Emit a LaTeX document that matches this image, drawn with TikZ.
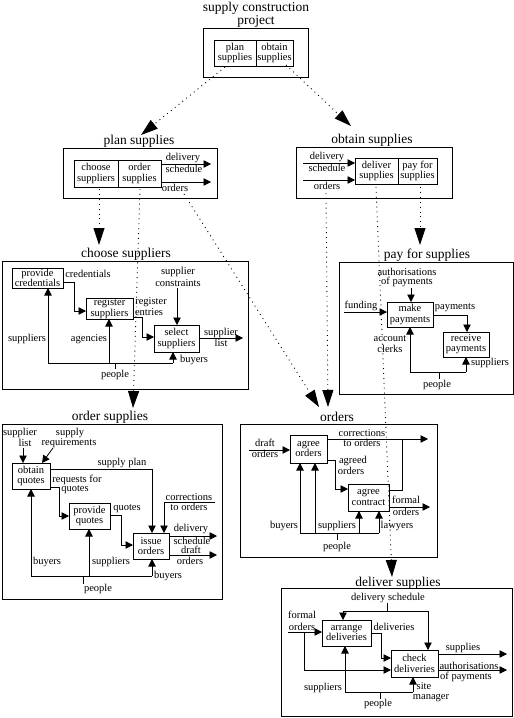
\documentclass[tikz,border=0pt]{standalone}
\usepackage{fontspec}
\setmainfont{Liberation Serif}
\usetikzlibrary{arrows.meta}
\begin{document}
\begin{tikzpicture}[x=1pt,y=-1pt,
  lab/.style={inner sep=0pt, align=center, font=\fontsize{10.5}{10.3}\selectfont},
  hd/.style={inner sep=0pt, align=center, font=\fontsize{13.5}{12.5}\selectfont},
  blk/.style={draw, line width=0.8pt, inner sep=0pt, outer sep=0pt, align=center, font=\fontsize{10.5}{10.3}\selectfont},
  frame/.style={draw, line width=0.8pt, inner sep=0pt, outer sep=0pt},
  flow/.style={line width=0.8pt, -{Triangle[length=7.5pt,width=7.5pt]}},
  ln/.style={line width=0.8pt},
  dots/.style={line width=0.9pt, dash pattern=on 0.9pt off 4pt, -{Triangle[length=17pt,width=11pt]}}]
\useasboundingbox (0,0) rectangle (514,718);

% ---------- top ----------
\node[hd] (ttl) at (256,15) {supply construction\\project};
\node[frame, minimum width=105pt, minimum height=49pt] (topf) at (255.5,52.5) {};
\node[blk, minimum width=42pt, minimum height=26pt] (tplan) at (235,53) {plan\\supplies};
\node[blk, minimum width=37pt, minimum height=26pt] (tobt) at (274.5,53) {obtain\\supplies};

% ---------- plan supplies ----------
\node[hd] (hps) at (139,141) {plan supplies};
\node[frame, minimum width=154pt, minimum height=50pt] (psf) at (140,173) {};
\node[blk, minimum width=44pt, minimum height=27pt] (pcs) at (96,173.5) {choose\\suppliers};
\node[blk, minimum width=43pt, minimum height=27pt] (pos) at (139.5,173.5) {order\\supplies};
\coordinate (psd) at (211,164);
\coordinate (pso) at (211,182);
\draw[flow] (pos.east |- psd) -- (psd);
\draw[flow] (pos.east |- pso) -- (pso);
\node[lab] (l1) at (183,158) {delivery};
\node[lab] (l2) at (184,169) {schedule};
\node[lab] (l3) at (175,188) {orders};

% ---------- obtain supplies ----------
\node[hd] (hos) at (372,140) {obtain supplies};
\node[frame, minimum width=156pt, minimum height=51pt] (osf) at (374,172.5) {};
\node[blk, minimum width=43pt, minimum height=26pt] (ods) at (376.5,171) {deliver\\supplies};
\node[blk, minimum width=39pt, minimum height=26pt] (ops) at (417.5,171) {pay for\\supplies};
\coordinate (osd) at (303,163);
\coordinate (oso) at (303,180);
\draw[flow] (osd) -- (ods.west |- osd);
\draw[flow] (oso) -- (ods.west |- oso);
\node[lab] (l4) at (327,157) {delivery};
\node[lab] (l5) at (327,168) {schedule};
\node[lab] (l6) at (327,186) {orders};

% ---------- dotted decomposition links ----------
\coordinate (s1) at (225,67);  \coordinate (e1) at (141,135);
\coordinate (s2) at (286,65);  \coordinate (e2) at (351,126);
\coordinate (s3) at (99,189);  \coordinate (e3) at (99,245);
\coordinate (s4) at (140,189); \coordinate (e4) at (133,408);
\coordinate (s5) at (184,194); \coordinate (e5) at (319,407);
\coordinate (s6) at (326,193); \coordinate (e6) at (328,407);
\coordinate (s7) at (376,187); \coordinate (e7) at (392,577);
\coordinate (s8) at (420,187); \coordinate (e8) at (420,245);
\foreach \i in {1,...,8} \draw[dots] (s\i) -- (e\i);

% ---------- choose suppliers ----------
\node[hd] (hcs) at (126,254) {choose suppliers};
\node[frame, minimum width=246pt, minimum height=128pt] (csf) at (125,325) {};
\node[blk, minimum width=51pt, minimum height=20pt] (pc) at (37.5,278) {provide\\credentials};
\node[blk, minimum width=47pt, minimum height=21pt] (rs) at (109.5,308.5) {register\\suppliers};
\node[blk, minimum width=45pt, minimum height=27pt] (ss) at (176.5,338.5) {select\\suppliers};
\draw[flow] (pc.east |- 0,282) -- (74,282) -- (74,311) -- (rs.west |- 0,311);
\draw[flow] (rs.east |- 0,317) -- (142,317) -- (142,337) -- (ss.west |- 0,337);
\draw[flow] (177,288) -- (ss.north -| 177,0);
\draw[flow] (ss.east |- 0,338) -- (243,338);
\draw[ln] (48,363) -- (173,363);
\draw[flow] (48,363) -- (pc.south -| 48,0);
\draw[flow] (109,363) -- (rs.south -| 109,0);
\draw[flow] (173,363) -- (ss.south -| 173,0);
\draw[ln] (115,363) -- (115,369);
\node[lab] (c1) at (88,274) {credentials};
\node[lab] (c2) at (151,302) {register};
\node[lab] (c3) at (149,312) {entries};
\node[lab] (c4) at (178,272) {supplier};
\node[lab] (c5) at (178,283) {constraints};
\node[lab] (c6) at (221,333) {supplier};
\node[lab] (c7) at (221,343) {list};
\node[lab] (c8) at (27,339) {suppliers};
\node[lab] (c9) at (89,339) {agencies};
\node[lab] (c10) at (194,360) {buyers};
\node[lab] (c11) at (115,375) {people};

% ---------- pay for supplies ----------
\node[hd] (hpf) at (427,255) {pay for supplies};
\node[frame, minimum width=174pt, minimum height=132pt] (pff) at (426,328) {};
\node[blk, minimum width=46pt, minimum height=25pt] (mp) at (410,314.5) {make\\payments};
\node[blk, minimum width=46pt, minimum height=25pt] (rp) at (466,344.5) {receive\\payments};
\draw[flow] (411,288) -- (mp.north -| 411,0);
\draw[flow] (344,312) -- (mp.west |- 0,312);
\draw[flow] (mp.east |- 0,315) -- (467,315) -- (rp.north -| 467,0);
\draw[ln] (410,372) -- (466,372);
\draw[flow] (410,372) -- (mp.south -| 410,0);
\draw[flow] (466,372) -- (rp.south -| 466,0);
\draw[ln] (439,372) -- (439,379);
\node[lab] (p1) at (407,272) {authorisations};
\node[lab] (p2) at (407,282) {of payments};
\node[lab] (p3) at (361,306) {funding};
\node[lab] (p4) at (455,308) {payments};
\node[lab] (p5) at (390,339) {account};
\node[lab] (p6) at (390,349) {clerks};
\node[lab] (p7) at (490,363) {suppliers};
\node[lab] (p8) at (437,385) {people};

% ---------- order supplies ----------
\node[hd] (hou) at (110,417) {order supplies};
\node[frame, minimum width=220pt, minimum height=175pt] (ouf) at (112,511.5) {};
\node[blk, minimum width=38pt, minimum height=26pt] (oq) at (31,476) {obtain\\quotes};
\node[blk, minimum width=41pt, minimum height=26pt] (pq) at (89.5,516) {provide\\quotes};
\node[blk, minimum width=36pt, minimum height=26pt] (io) at (151,546) {issue\\orders};
\draw[flow] (23,448) -- (oq.north -| 23,0);
\draw[flow] (53,448) -- (oq.north -| 42,0);
\draw[flow] (oq.east |- 0,469) -- (152,469) -- (io.north -| 152,0);
\draw[flow] (oq.east |- 0,487) -- (59,487) -- (59,516) -- (pq.west |- 0,516);
\draw[flow] (pq.east |- 0,515) -- (121,515) -- (121,545) -- (io.west |- 0,545);
\draw[flow] (215,502) -- (164,502) -- (io.north -| 164,0);
\draw[flow] (io.east |- 0,536) -- (217,536);
\draw[flow] (io.east |- 0,555) -- (217,555);
\draw[ln] (31,576) -- (152,576);
\draw[flow] (31,576) -- (oq.south -| 31,0);
\draw[flow] (89,576) -- (pq.south -| 89,0);
\draw[flow] (152,576) -- (io.south -| 152,0);
\draw[ln] (83,576) -- (83,584);
\node[lab] (o1) at (20,433) {supplier};
\node[lab] (o2) at (25,443) {list};
\node[lab] (o3) at (70,433) {supply};
\node[lab] (o4) at (69,443) {requirements};
\node[lab] (o5) at (122,463) {supply plan};
\node[lab] (o6) at (77,480) {requests for};
\node[lab] (o7) at (75,490) {quotes};
\node[lab] (o8) at (127,509) {quotes};
\node[lab] (o9) at (189,497) {corrections};
\node[lab] (o10) at (189,507) {to orders};
\node[lab] (o11) at (191,529) {delivery};
\node[lab] (o12) at (192,541) {schedule};
\node[lab] (o13) at (191,550) {draft};
\node[lab] (o14) at (190,561) {orders};
\node[lab] (o15) at (47,562) {buyers};
\node[lab] (o16) at (111,562) {suppliers};
\node[lab] (o17) at (168,576) {buyers};
\node[lab] (o18) at (98,589) {people};

% ---------- orders ----------
\node[hd] (hor) at (337,417) {orders};
\node[frame, minimum width=197pt, minimum height=133pt] (orf) at (338.5,490.5) {};
\node[blk, minimum width=37pt, minimum height=28pt] (ao) at (308.5,449) {agree\\orders};
\node[blk, minimum width=41pt, minimum height=27pt] (ac) at (368.5,497.5) {agree\\contract};
\draw[flow] (249,450) -- (ao.west |- 0,450);
\draw[flow] (ao.east |- 0,439) -- (428,439);
\draw[flow] (ao.east |- 0,460) -- (335,460) -- (335,489) -- (ac.west |- 0,489);
\draw[ln] (ac.east |- 0,490) -- (402,490) -- (402,439);
\draw[flow] (ac.east |- 0,507) -- (430,507);
\draw[ln] (300,533) -- (379,533);
\draw[flow] (300,533) -- (ao.south -| 300,0);
\draw[flow] (315,533) -- (ao.south -| 315,0);
\draw[flow] (359,533) -- (ac.south -| 359,0);
\draw[flow] (379,533) -- (ac.south -| 379,0);
\draw[ln] (337,533) -- (337,540);
\node[lab] (r1) at (265,443) {draft};
\node[lab] (r2) at (265,454) {orders};
\node[lab] (r3) at (362,433) {corrections};
\node[lab] (r4) at (362,443) {to orders};
\node[lab] (r5) at (353,461) {agreed};
\node[lab] (r6) at (351,471) {orders};
\node[lab] (r7) at (406,500) {formal};
\node[lab] (r8) at (406,512) {orders};
\node[lab] (r9) at (284,526) {buyers};
\node[lab] (r10) at (337,526) {suppliers};
\node[lab] (r11) at (397,526) {lawyers};
\node[lab] (r12) at (337,547) {people};

% ---------- deliver supplies ----------
\node[hd] (hds) at (398,583) {deliver supplies};
\node[frame, minimum width=231pt, minimum height=128pt] (dsf) at (396.5,652) {};
\node[blk, minimum width=49pt, minimum height=26pt] (ad) at (346.5,633) {arrange\\deliveries};
\node[blk, minimum width=47pt, minimum height=27pt] (cd) at (414.5,663.5) {check\\deliveries};
\node[lab] (d1) at (388,598) {delivery schedule};
\draw[ln] (d1.south -| 387,0) -- (387,611);
\draw[ln] (343,611) -- (428,611);
\draw[flow] (343,611) -- (ad.north -| 343,0);
\draw[flow] (428,611) -- (cd.north -| 428,0);
\draw[flow] (288,632) -- (ad.west |- 0,632);
\draw[flow] (304,632) -- (304,670) -- (cd.west |- 0,670);
\draw[flow] (ad.east |- 0,633) -- (381,633) -- (381,658) -- (cd.west |- 0,658);
\draw[flow] (cd.east |- 0,654) -- (507,654);
\draw[flow] (cd.east |- 0,670) -- (507,670);
\draw[ln] (345,692) -- (413,692);
\draw[flow] (345,692) -- (ad.south -| 345,0);
\draw[flow] (413,692) -- (cd.south -| 413,0);
\draw[ln] (380,692) -- (380,699);
\node[lab] (d2) at (302,615) {formal};
\node[lab] (d3) at (302,627) {orders};
\node[lab] (d4) at (394,627) {deliveries};
\node[lab] (d5) at (463,648) {supplies};
\node[lab] (d6) at (469,666) {authorisations};
\node[lab] (d7) at (466,677) {of payments};
\node[lab] (d8) at (323,688) {suppliers};
\node[lab] (d9) at (424,686) {site};
\node[lab] (d10) at (431,698) {manager};
\node[lab] (d11) at (378,704) {people};
\end{tikzpicture}
\end{document}
